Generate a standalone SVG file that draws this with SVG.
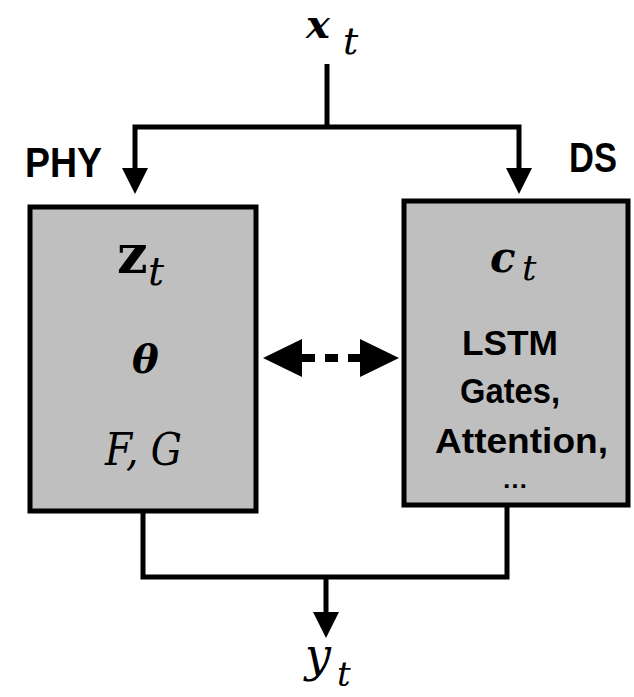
<svg xmlns="http://www.w3.org/2000/svg" width="634" height="697" viewBox="0 0 634 697">
<style>
.box{fill:#bfbfbf;stroke:#000;stroke-width:5}
.ln{fill:none;stroke:#000;stroke-width:5;stroke-linejoin:miter}
.lbl{font-family:"Liberation Sans",Arial,sans-serif;font-weight:bold;fill:#000}
.m{font-family:"DejaVu Serif","Liberation Serif",serif;fill:#000}
</style>
<defs>
<marker id="arr" viewBox="0 0 26 26" refX="0" refY="13" markerWidth="26" markerHeight="26" markerUnits="userSpaceOnUse" orient="auto-start-reverse">
<path d="M0,0 L26,13 L0,26 z" fill="#000"/>
</marker>
<marker id="big" viewBox="0 0 39 38" refX="0" refY="19" markerWidth="39" markerHeight="38" markerUnits="userSpaceOnUse" orient="auto-start-reverse">
<path d="M0,0 L39,19 L0,38 z" fill="#000"/>
</marker>
</defs>
<g id="connectors">
<path class="ln" d="M327,64 V127"/>
<path class="ln" d="M135,168 V127 H519 V168" marker-start="url(#arr)" marker-end="url(#arr)"/>
<path class="ln" d="M143,511 V577 H507 V505"/>
<path class="ln" d="M326,577 V612" marker-end="url(#arr)"/>
<path fill="none" stroke="#000" stroke-width="8" stroke-dasharray="13 10" d="M302,358 H360" marker-start="url(#big)" marker-end="url(#big)"/>
</g>
<g id="input">
<text class="m" y="38"><tspan x="306" font-weight="bold" font-style="italic" font-size="40">x</tspan><tspan x="343" y="54" font-style="italic" font-size="38">t</tspan></text>
</g>
<g id="output">
<text class="m" y="671"><tspan x="305" font-style="italic" font-size="46">y</tspan><tspan x="337" y="686" font-style="italic" font-size="34">t</tspan></text>
</g>
<g id="phy">
<text class="lbl" x="25" y="177" font-size="42" textLength="77" lengthAdjust="spacingAndGlyphs">PHY</text>
<rect class="box" x="30" y="207" width="226" height="304"/>
<text class="m" y="273"><tspan x="117" font-weight="bold" font-size="54">z</tspan><tspan x="148" y="285" font-style="italic" font-size="40">t</tspan></text>
<text class="m" x="132" y="373" font-weight="bold" font-style="italic" font-size="40">θ</text>
<text class="m" x="105" y="465" font-style="italic" font-size="44" textLength="77" lengthAdjust="spacingAndGlyphs">F, G</text>
</g>
<g id="ds">
<text class="lbl" x="569" y="172" font-size="42" textLength="48" lengthAdjust="spacingAndGlyphs">DS</text>
<rect class="box" x="404" y="201" width="224" height="304"/>
<text class="m" y="272"><tspan x="490" font-weight="bold" font-style="italic" font-size="42">c</tspan><tspan x="522" y="280" font-style="italic" font-size="36">t</tspan></text>
<text class="lbl" x="462" y="355" font-size="35" textLength="96" lengthAdjust="spacingAndGlyphs">LSTM</text>
<text class="lbl" x="460" y="403" font-size="35" textLength="100" lengthAdjust="spacingAndGlyphs">Gates,</text>
<text class="lbl" x="435" y="453" font-size="35" textLength="173" lengthAdjust="spacingAndGlyphs">Attention,</text>
<text class="lbl" x="515" y="488" font-size="26" text-anchor="middle">…</text>
</g>
</svg>
